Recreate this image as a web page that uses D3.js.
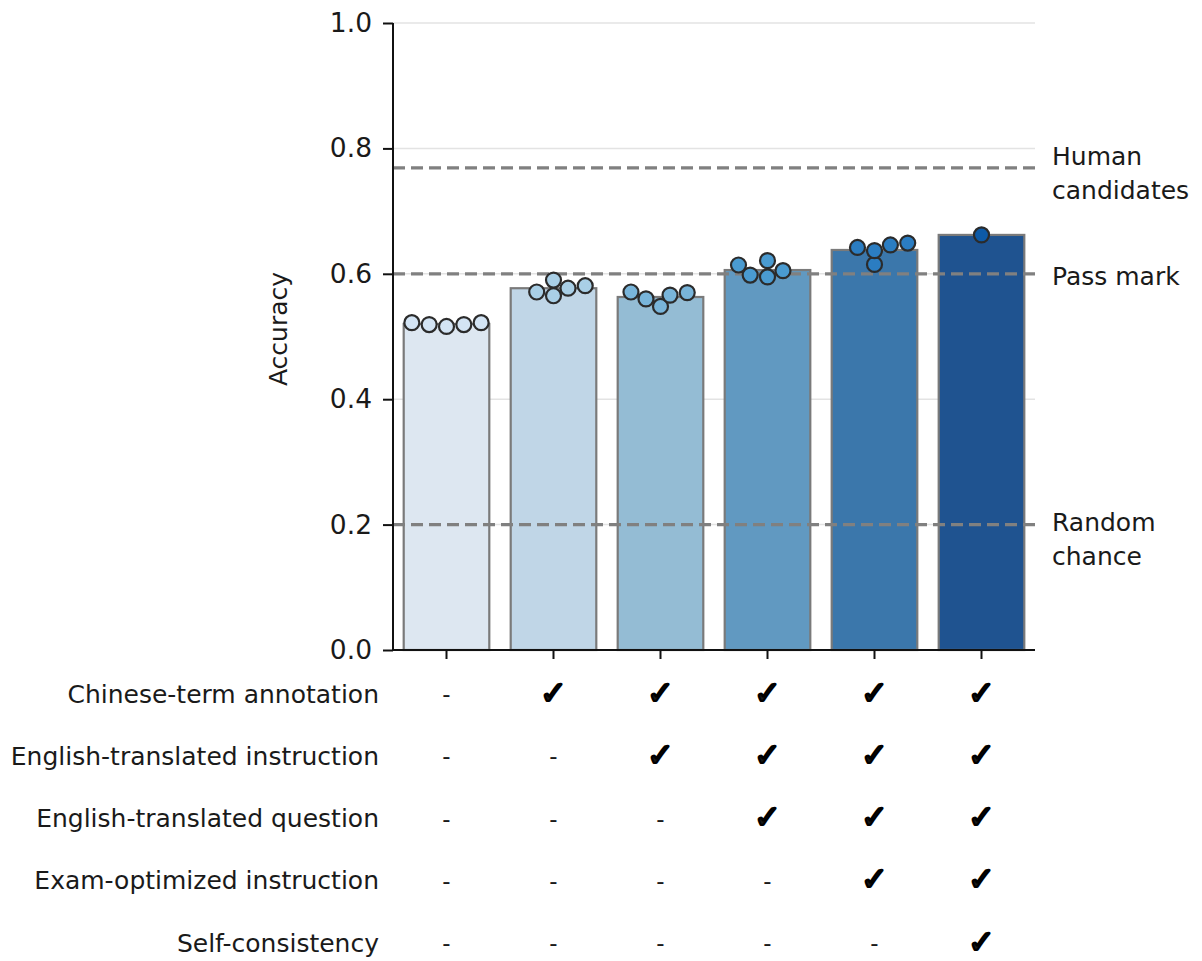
<!DOCTYPE html>
<html><head><meta charset="utf-8">
<script src="https://cdn.jsdelivr.net/npm/d3@7"></script>
<style>body{margin:0;background:#fff}svg{display:block}text{font-family:"DejaVu Sans",sans-serif;fill:#1a1a1a}</style>
</head><body><svg id="c" width="1202" height="961"></svg>
<script>
const categories = ["c1","c2","c3","c4","c5","c6"];
const barValues = [0.520, 0.577, 0.563, 0.606, 0.638, 0.662];
const runValues = [
  [0.522, 0.519, 0.516, 0.519, 0.522],
  [0.571, 0.590, 0.565, 0.577, 0.581],
  [0.571, 0.560, 0.548, 0.566, 0.570],
  [0.614, 0.598, 0.621, 0.595, 0.605],
  [0.642, 0.637, 0.615, 0.646, 0.649],
  [0.662]
];
const barColors = ["#dde7f1","#c0d6e7","#94bcd4","#6199c1","#3b77ab","#1f5390"];
const dotColors = ["#d3e4f4","#a9cfe6","#79b5da","#4a9bd1","#2b7dc2","#0d5aa7"];
const yTicks = [0, 0.2, 0.4, 0.6, 0.8, 1.0];
const refValues = [0.769, 0.6, 0.2];
const refLabels = [["Human","candidates"],["Pass mark"],["Random","chance"]];
const rowLabels = ["Chinese-term annotation","English-translated instruction","English-translated question","Exam-optimized instruction","Self-consistency"];
const checks = [
  [0,1,1,1,1,1],
  [0,0,1,1,1,1],
  [0,0,0,1,1,1],
  [0,0,0,0,1,1],
  [0,0,0,0,0,1]
];

const svg = d3.select("#c");
const L = 393, R = 1035, T = 23, B = 650;
const x = d3.scaleBand().domain(categories).range([L, R]).paddingInner(0.2).paddingOuter(0.1);
const y = d3.scaleLinear().domain([0, 1]).range([B, T]);

// grid
svg.append("g").selectAll("line").data(yTicks.filter(d => d > 0)).join("line")
  .attr("x1", L).attr("x2", R).attr("y1", d => y(d)).attr("y2", d => y(d))
  .attr("stroke", "#e3e3e3").attr("stroke-width", 1.5);

// bars
svg.append("g").selectAll("rect").data(barValues).join("rect")
  .attr("x", (d, i) => x(categories[i])).attr("width", x.bandwidth())
  .attr("y", d => y(d)).attr("height", d => B - y(d))
  .attr("fill", (d, i) => barColors[i]).attr("stroke", "#7a7a7a").attr("stroke-width", 2.2);

// reference lines
svg.append("g").selectAll("line").data(refValues).join("line")
  .attr("x1", L).attr("x2", R).attr("y1", d => y(d)).attr("y2", d => y(d))
  .attr("stroke", "#808080").attr("stroke-width", 3.2).attr("stroke-dasharray", "12,6");

// reference labels (first-line baseline offset from the line, per label)
const labelBaselineShift = [-3, 11, 6];
const refG = svg.append("g");
refValues.forEach((v, i) => {
  refLabels[i].forEach((t, j) => {
    refG.append("text").attr("x", 1052).attr("y", y(v) + labelBaselineShift[i] + j * 34)
      .attr("font-size", 25).text(t);
  });
});

// swarm layout
function swarm(vals) {
  const d = 17.5, k = 1.3;
  const pts = vals.map(v => ({v, py: y(v)})).sort((a, b) => a.v - b.v);
  const placed = [];
  pts.forEach(p => {
    const cands = [0];
    placed.forEach(q => {
      const dy = (p.py - q.py) * k;
      if (Math.abs(dy) < d) {
        const dx = Math.sqrt(d * d - dy * dy);
        cands.push(q.dx - dx, q.dx + dx);
      }
    });
    cands.sort((a, b) => Math.abs(a) - Math.abs(b) || a - b);
    const ok = c => placed.every(q => {
      const ddx = c - q.dx, ddy = (p.py - q.py) * k;
      return ddx * ddx + ddy * ddy >= d * d - 0.5;
    });
    p.dx = cands.find(ok);
    placed.push(p);
  });
  return placed;
}

const dotG = svg.append("g");
runValues.forEach((vals, i) => {
  const cx = x(categories[i]) + x.bandwidth() / 2;
  dotG.selectAll(null).data(swarm(vals)).join("circle")
    .attr("cx", p => cx + p.dx).attr("cy", p => p.py).attr("r", 7.5)
    .attr("fill", dotColors[i]).attr("stroke", "#2b2b2b").attr("stroke-width", 2.2);
});

// axes
const yAxis = svg.append("g").attr("transform", `translate(${L},0)`)
  .call(d3.axisLeft(y).tickValues(yTicks).tickFormat(d3.format(".1f")).tickSize(10).tickPadding(11));
yAxis.select(".domain").attr("stroke", "#111").attr("stroke-width", 2).attr("d", `M0,${T}V${B}`);
yAxis.selectAll(".tick line").attr("stroke", "#111").attr("stroke-width", 2);
yAxis.selectAll(".tick text").attr("font-size", 26.5).attr("font-family", "DejaVu Sans").attr("fill", "#1a1a1a");

const xAxis = svg.append("g").attr("transform", `translate(0,${B})`)
  .call(d3.axisBottom(x).tickSize(9).tickFormat(""));
xAxis.select(".domain").attr("stroke", "#111").attr("stroke-width", 2).attr("d", `M${L},0H${R}`);
xAxis.selectAll(".tick line").attr("stroke", "#111").attr("stroke-width", 2);

svg.append("text").attr("transform", "translate(287,329) rotate(-90)")
  .attr("text-anchor", "middle").attr("font-size", 25).text("Accuracy");

// table
const rowY = d3.scalePoint().domain(rowLabels).range([694, 943]);
const tbl = svg.append("g");
tbl.selectAll("text.lab").data(rowLabels).join("text").attr("class", "lab")
  .attr("x", 379).attr("y", d => rowY(d)).attr("text-anchor", "end")
  .attr("dominant-baseline", "central").attr("font-size", 25).text(d => d);
rowLabels.forEach((r, ri) => {
  checks[ri].forEach((c, ci) => {
    const cx = x(categories[ci]) + x.bandwidth() / 2;
    const t = tbl.append("text").attr("x", cx).attr("text-anchor", "middle").attr("dominant-baseline", "central");
    if (c) t.attr("y", rowY(r) - 1.5).attr("font-size", 32).attr("fill", "#000")
      .attr("stroke", "#000").attr("stroke-width", 2.4).attr("stroke-linejoin", "round").text("\u2713");
    else t.attr("y", rowY(r)).attr("font-size", 23).text("-");
  });
});
</script></body></html>
